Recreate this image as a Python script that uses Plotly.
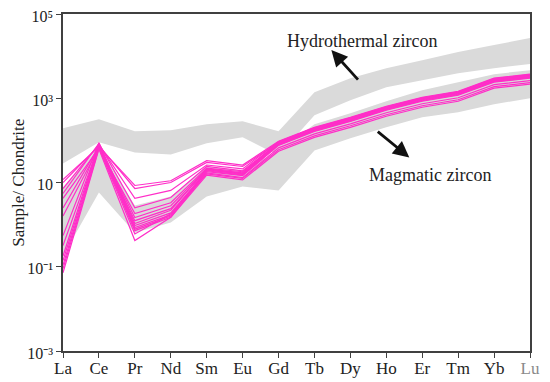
import plotly.graph_objects as go

elements = ["La", "Ce", "Pr", "Nd", "Sm", "Eu", "Gd", "Tb", "Dy", "Ho", "Er", "Tm", "Yb", "Lu"]
tick_labels = ["La", "Ce", "Pr", "Nd", "Sm", "Eu", "Gd", "Tb", "Dy", "Ho", "Er", "Tm", "Yb",
               "<span style='color:#8a8a8a'>Lu</span>"]

# Hydrothermal zircon field (upper grey band)
hydro_top = [193, 316, 164, 173, 240, 283, 164, 1390, 2990, 5180, 8030, 12450, 18300, 26800]
hydro_bottom = [28.3, 90, 51.8, 46.4, 85, 118, 44, 394, 896, 1830, 2680, 3940, 5180, 6460]

# Magmatic zircon field (lower grey band)
magm_top = [7.2, 72, 2.83, 4.64, 24, 19.3, 57.8, 240, 440, 848, 1550, 2400, 3730, 4640]
magm_bottom = [0.183, 5.78, 0.645, 1.12, 4.64, 8.03, 6.45, 57.8, 112, 204, 353, 464, 720, 1000]

# Chondrite-normalised REE of the analysed zircons
zr01 = [11.8, 70, 8.5, 11, 33, 26, 95, 204, 353, 646, 1057, 1468, 2994, 3728]
zr02 = [10, 75, 7.2, 10, 30, 24, 90, 193, 334, 612, 1001, 1390, 2835, 3530]
zr03 = [7.2, 80, 4.2, 6.5, 26, 21, 92, 198, 343, 629, 1028, 1428, 2913, 3627]
zr04 = [5.5, 85, 2.5, 4.4, 24, 19, 87.5, 188, 325, 595, 973, 1352, 2757, 3433]
zr05 = [4.2, 65, 1.83, 3.3, 22, 18, 85, 183, 316, 579, 947, 1315, 2683, 3340]
zr06 = [2.5, 72, 1.47, 2.8, 21, 17, 83, 178, 308, 563, 922, 1280, 2611, 3251]
zr07 = [1.6, 68, 1.24, 2.4, 20, 16, 80.5, 173, 299, 548, 896, 1245, 2539, 3161]
zr08 = [0.55, 88, 1.06, 2.2, 21, 16.5, 91, 195, 338, 615, 1010, 1400, 2850, 3560]
zr09 = [0.32, 78, 0.95, 1.9, 19, 15, 78, 168, 291, 533, 872, 1211, 2470, 3076]
zr10 = [0.18, 82, 0.85, 1.7, 18, 14.5, 76, 164, 283, 519, 849, 1179, 2404, 2994]
zr11 = [0.14, 76, 0.78, 1.6, 20, 15.5, 86, 184, 318, 582, 950, 1320, 2690, 3350]
zr12 = [0.11, 70, 0.72, 1.5, 17, 13, 66.5, 143, 247, 452, 740, 1028, 2096, 2610]
zr13 = [0.09, 66, 0.6, 1.8, 16, 12.5, 60, 128, 222, 406, 664, 922, 1880, 2341]
zr14 = [0.072, 62, 0.42, 1.5, 15, 11.5, 55, 118, 204, 373, 611, 848, 1731, 2155]
samples = [zr01, zr02, zr03, zr04, zr05, zr06, zr07, zr08, zr09, zr10, zr11, zr12, zr13, zr14]

y_tickvals = [1e-3, 1e-1, 10, 1e3, 1e5]
y_ticktext = ["10\u207b\u00b3", "10\u207b\u00b9", "10", "10\u00b3", "10\u2075"]

band_color = "#dadada"
pink = "#ff2ec8"
axis_color = "#404040"
font_family = "Liberation Serif"

fig = go.Figure()
for top, bottom in [(hydro_top, hydro_bottom), (magm_top, magm_bottom)]:
    fig.add_trace(go.Scatter(
        x=elements + elements[::-1], y=top + bottom[::-1],
        fill="toself", fillcolor=band_color, mode="lines",
        line=dict(width=0, color=band_color), hoverinfo="skip", showlegend=False))

for s in samples:
    fig.add_trace(go.Scatter(x=elements, y=s, mode="lines",
                             line=dict(color=pink, width=1.2), showlegend=False))

fig.add_annotation(x=8.31, y=4.357, text="Hydrothermal zircon", showarrow=False,
                   font=dict(family=font_family, size=18, color="#222"))
fig.add_annotation(x=10.22, y=1.167, text="Magmatic zircon", showarrow=False,
                   font=dict(family=font_family, size=18, color="#222"))
fig.add_annotation(x=7.47, y=4.143, ax=28, ay=31, text="", showarrow=True,
                   arrowhead=2, arrowsize=1.15, arrowwidth=2.8, arrowcolor="#111", standoff=0)
fig.add_annotation(x=9.64, y=1.595, ax=-33, ay=-27, text="", showarrow=True,
                   arrowhead=2, arrowsize=1.15, arrowwidth=2.8, arrowcolor="#111", standoff=0)

# rotated y-axis title placed in paper space
fig.add_annotation(xref="paper", yref="paper", x=-0.096, y=0.5, xanchor="center", yanchor="middle",
                   text="Sample/ Chondrite", textangle=-90, showarrow=False,
                   font=dict(family=font_family, size=17, color="#222"))

# the page body adds an 8 px offset, so the figure is 8 px smaller on each axis
fig.update_layout(
    width=542, height=374,
    margin=dict(l=55, r=20, t=6, b=31),
    paper_bgcolor="white", plot_bgcolor="white",
    font=dict(family=font_family, size=15, color="#222"),
)
fig.update_xaxes(
    type="category", categoryorder="array", categoryarray=elements,
    tickvals=elements, ticktext=tick_labels, range=[0, 13], automargin=False,
    showgrid=False, zeroline=False, showline=True, linecolor=axis_color, linewidth=1.5,
    mirror=True, ticks="outside", ticklen=5, tickwidth=1.3, tickcolor=axis_color,
    ticklabelstandoff=-4,
    tickfont=dict(family=font_family, size=17, color="#222"),
)
fig.update_yaxes(
    type="log", range=[-3, 5], tickvals=y_tickvals, ticktext=y_ticktext, automargin=False,
    showgrid=False, zeroline=False, showline=True, linecolor=axis_color, linewidth=1.5,
    mirror=True, ticks="outside", ticklen=5, tickwidth=1.3, tickcolor=axis_color,
    ticklabeloverflow="allow", ticklabelshift=2,
    tickfont=dict(family=font_family, size=16, color="#222"),
)

fig.write_html("out.html")
